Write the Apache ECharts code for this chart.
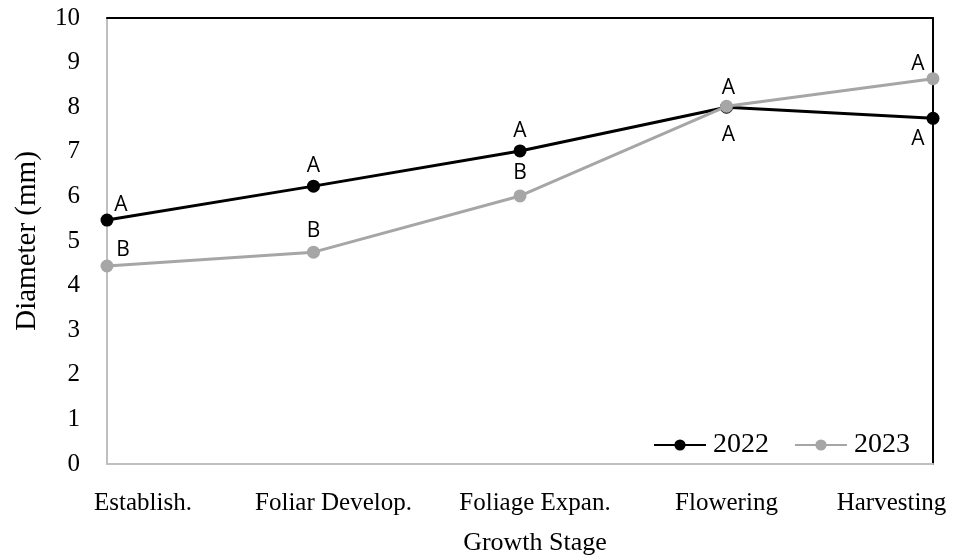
<!DOCTYPE html>
<html>
<head>
<meta charset="utf-8">
<script src="https://cdn.jsdelivr.net/npm/echarts@6/dist/echarts.min.js"></script>
<style>
  html, body { margin: 0; padding: 0; background: #fff; }
  #main { width: 953px; height: 559px; }
</style>
</head>
<body>
<div id="main"></div>
<script>
// data
var stages = ['Establish.', 'Foliar Develop.', 'Foliage Expan.', 'Flowering', 'Harvesting'];
var d2022 = [5.47, 6.23, 7.02, 8.0, 7.75];
var d2023 = [4.44, 4.75, 6.01, 8.02, 8.64];
var letters2022 = ['A', 'A', 'A', 'A', 'A'];
var letters2023 = ['B', 'B', 'B', 'A', 'A'];
var yTicks = [0, 1, 2, 3, 4, 5, 6, 7, 8, 9, 10];

// label placement (styling only)
var pos2022 = ['top', 'top', 'top', 'bottom', 'bottom'];
var dist2022 = [-2, 3.5, 2.7, 11, 4];
var off2022 = [[14, 0], [0, 0], [0, 0], [2, 0], [-15, 0]];
var pos2023 = ['top', 'top', 'top', 'top', 'top'];
var dist2023 = [-1.3, 4.3, 6, 1.3, -2.7];
var off2023 = [[16, 0], [0, 0], [0, 0], [2, 0], [-15, 0]];
var xLabelPad = [[0, 0, 0, 72], [0, 0, 0, 40], [0, 0, 0, 30], [0, 0, 0, 0], [0, 83, 0, 0]];

var serif = '"Liberation Serif", "Times New Roman", serif';
var sans = '"Open Sans", "Noto Sans", sans-serif';

function buildData(vals, letters, pos, dist, off) {
  return vals.map(function (v, i) {
    return {
      value: v,
      label: { formatter: letters[i], position: pos[i], distance: dist[i], offset: off[i] }
    };
  });
}

var rich = {};
xLabelPad.forEach(function (p, i) {
  rich['c' + i] = { padding: p, fontFamily: serif, fontSize: 25, color: '#000' };
});

var myChart = echarts.init(document.getElementById('main'));

var option = {
  animation: false,
  grid: { left: 107, right: 20, top: 18, bottom: 95, containLabel: false, outerBoundsMode: 'none' },
  legend: {
    data: ['2022', '2023'],
    top: 426,
    right: 38,
    itemWidth: 52,
    itemHeight: 14,
    itemGap: 25,
    textStyle: { fontFamily: serif, fontSize: 28, color: '#000', padding: [0, 0, 0, 2] }
  },
  xAxis: [{
    type: 'category',
    data: stages,
    boundaryGap: false,
    name: 'Growth Stage',
    nameLocation: 'middle',
    nameGap: 66,
    nameTextStyle: { fontFamily: serif, fontSize: 26, color: '#000', padding: [0, 0, 0, 30] },
    axisLine: { onZero: false, lineStyle: { color: '#bfbfbf', width: 2 } },
    axisTick: { show: false },
    axisLabel: {
      interval: 0,
      margin: 27,
      fontFamily: serif,
      fontSize: 25,
      color: '#000',
      formatter: function (v, i) { return '{c' + i + '|' + v + '}'; },
      rich: rich
    },
    splitLine: { show: false }
  }, {
    type: 'category',
    data: stages,
    boundaryGap: false,
    position: 'top',
    axisLine: { onZero: false, lineStyle: { color: '#000', width: 2 } },
    axisTick: { show: false },
    axisLabel: { show: false },
    splitLine: { show: false }
  }],
  yAxis: [{
    type: 'value',
    min: 0,
    max: 10,
    interval: 1,
    name: 'Diameter (mm)',
    nameLocation: 'middle',
    nameGap: 65,
    nameTextStyle: { fontFamily: serif, fontSize: 29, color: '#000' },
    axisLine: { show: true, onZero: false, lineStyle: { color: '#bfbfbf', width: 2 } },
    axisTick: { show: false },
    axisLabel: {
      margin: 27,
      fontFamily: serif,
      fontSize: 25,
      color: '#000',
      formatter: function (v) { return yTicks.indexOf(v) >= 0 ? String(v) : ''; }
    },
    splitLine: { show: false }
  }, {
    type: 'value',
    min: 0,
    max: 10,
    interval: 1,
    position: 'right',
    axisLine: { show: true, onZero: false, lineStyle: { color: '#000', width: 2 } },
    axisTick: { show: false },
    axisLabel: { show: false },
    splitLine: { show: false }
  }],
  series: [{
    name: '2022',
    type: 'line',
    data: buildData(d2022, letters2022, pos2022, dist2022, off2022),
    symbol: 'circle',
    symbolSize: 13,
    lineStyle: { color: '#000', width: 3 },
    itemStyle: { color: '#000' },
    label: { show: true, fontFamily: sans, fontSize: 21, color: '#000' },
    z: 2
  }, {
    name: '2023',
    type: 'line',
    data: buildData(d2023, letters2023, pos2023, dist2023, off2023),
    symbol: 'circle',
    symbolSize: 13,
    lineStyle: { color: '#a6a6a6', width: 3 },
    itemStyle: { color: '#a6a6a6' },
    label: { show: true, fontFamily: sans, fontSize: 21, color: '#000' },
    z: 3
  }]
};

myChart.setOption(option);
</script>
</body>
</html>
